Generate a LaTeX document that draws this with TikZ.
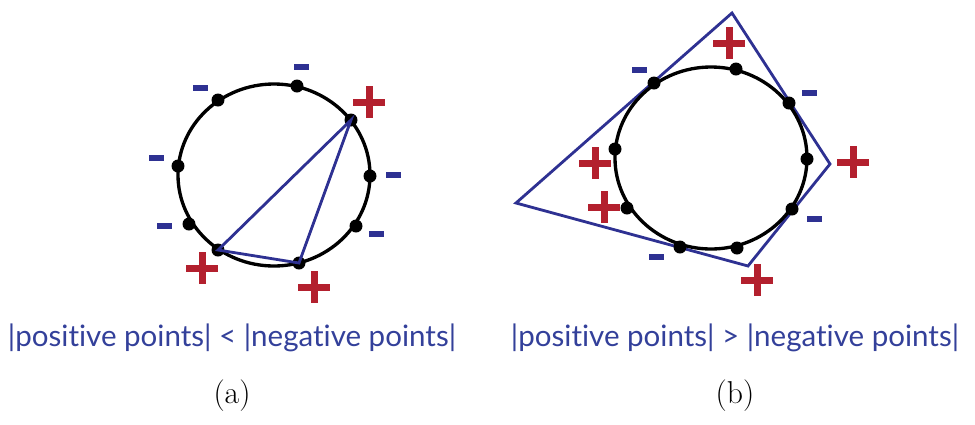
\documentclass[tikz,border=0pt]{standalone}
\usepackage{fontspec}
\newfontfamily\capfont[Ligatures=NoCommon]{Lato}
\usepackage{tikz}
\usetikzlibrary{calc}
\definecolor{bluec}{HTML}{2E3192}
\definecolor{textc}{HTML}{33409A}
\definecolor{redc}{HTML}{B3202E}
\tikzset{
  dot/.style={circle,fill=black,inner sep=0pt,minimum size=0.26cm},
  ring/.style={draw=black,line width=1.9pt},
  hull/.style={draw=bluec,line width=1.6pt,line join=miter},
  legend/.style={font=\capfont\fontsize{16.8}{18}\selectfont,text=textc,inner sep=0pt},
  sub/.style={font=\fontsize{18}{20}\selectfont,inner sep=0pt},
  plus/.pic={\fill[redc] (-16,-3.5) rectangle (16,3.5);
             \fill[redc] (-3.5,-16) rectangle (3.5,16);},
  minus/.pic={\fill[bluec] (-7.5,-2.6) rectangle (7.5,2.6);},
}
\newcommand{\spot}[2]{\node[dot] (#1) at (#2) {};}
\begin{document}
\begin{tikzpicture}[x=0.02cm,y=-0.02cm]
  \useasboundingbox (0,0) rectangle (975,424);
  % (a)
  \draw[ring] (274,175) ellipse [x radius=96, y radius=91];
  \spot{a1}{218,100}\spot{a2}{297,86}\spot{a3}{351,120}
  \spot{a4}{178,166}\spot{a5}{370,176}\spot{a6}{189,224}
  \spot{a7}{356,226}\spot{a8}{218,250}\spot{a9}{299,263}
  \draw[hull] (a3.center) -- (a8.center) -- (a9.center) -- cycle;
  \pic at (200,88) {minus};  \pic at (301,67) {minus};
  \pic at (369,102) {plus};  \pic at (156,158) {minus};
  \pic at (393,175) {minus}; \pic at (164,226) {minus};
  \pic at (376,234) {minus}; \pic at (202,268) {plus};
  \pic at (314,287) {plus};
  \node[legend] (ca) at (232,338) {|positive points| < |negative points|};
  \node[sub] (la) at (232,396) {(a)};
  % (b)
  \coordinate (q1) at (732,13);  \coordinate (q2) at (830,164);
  \coordinate (q3) at (748,266); \coordinate (q4) at (516,203);
  \draw[hull] (q1) -- (q2) -- (q3) -- (q4) -- cycle;
  \draw[ring] (711,158) ellipse [x radius=96, y radius=91];
  \spot{b1}{654,83}\spot{b2}{736,69}\spot{b3}{789,103}
  \spot{b4}{615,149}\spot{b5}{807,159}\spot{b6}{627,208}
  \spot{b7}{792,209}\spot{b8}{680,247}\spot{b9}{737,248}
  \pic at (639,70) {minus};  \pic at (729,43) {plus};
  \pic at (809,93) {minus};  \pic at (595,163) {plus};
  \pic at (853,162) {plus};  \pic at (604,207) {plus};
  \pic at (814,219) {minus}; \pic at (656,257) {minus};
  \pic at (757,280) {plus};
  \node[legend] (cb) at (735,338) {|positive points| > |negative points|};
  \node[sub] (lb) at (735,396) {(b)};
\end{tikzpicture}
\end{document}
